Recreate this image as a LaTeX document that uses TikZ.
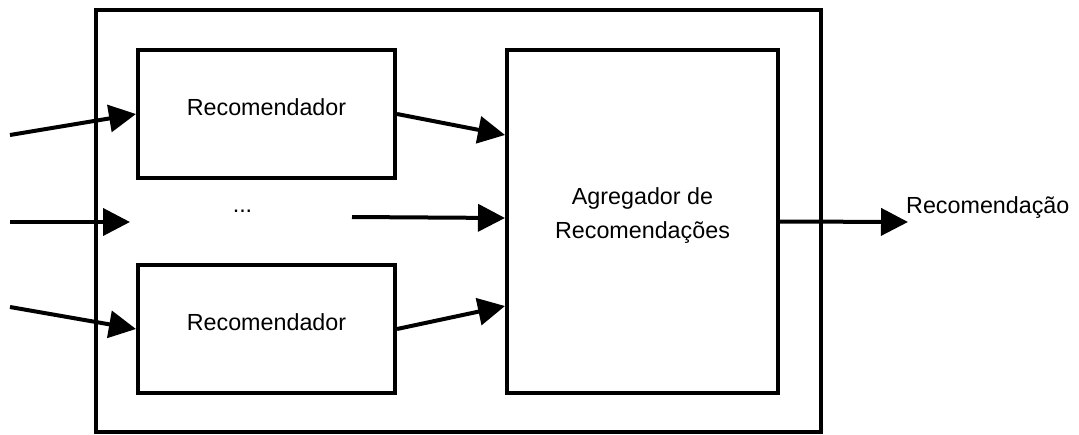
\documentclass[tikz,border=0pt]{standalone}
\usepackage{fontspec}
\setmainfont{Liberation Sans}
\usetikzlibrary{arrows.meta}

\tikzset{
  block/.style={draw, line width=4pt, inner sep=0pt, anchor=center},
  lbl/.style={inner sep=0pt, anchor=base, font=\fontsize{23.3}{28}\selectfont},
  flow/.style={line width=4pt, -{Triangle[length=27pt,width=27pt]}}
}

\begin{document}
\begin{tikzpicture}[x=1pt, y=-1pt]
  \useasboundingbox (0,0) rectangle (1079,434);

  % enclosing system frame
  \node[block, minimum width=725pt, minimum height=422pt] (frame) at (458.5,221) {};

  % individual recommenders and the aggregator
  \node[block, minimum width=257pt, minimum height=128pt] (rec1) at (266.5,114) {};
  \node[block, minimum width=257pt, minimum height=128pt] (rec2) at (266.5,329) {};
  \node[block, minimum width=271pt, minimum height=343pt] (agg) at (642.5,221.5) {};

  % texts
  \node[lbl] (t1) at (266.5,115) {Recomendador};
  \node[lbl] (t2) at (266.5,330) {Recomendador};
  \node[lbl] (dots) at (242.5,212) {...};
  \node[lbl] (ta) at (642.5,204) {Agregador de};
  \node[lbl] (tb) at (642.5,238) {Recomendações};
  \node[lbl, anchor=base west] (tout) at (906,213) {Recomendação};

  % free ends of the connectors
  \coordinate (in1) at (10,135);
  \coordinate (in2) at (10,222);
  \coordinate (in3) at (10,307);
  \coordinate (mid) at (130,222);
  \coordinate (midout) at (352,217);
  \coordinate (out) at (908,222);

  % inputs
  \draw[flow] (in1) -- (rec1.west);
  \draw[flow] (in2) -- (mid);
  \draw[flow] (in3) -- (rec2.west);

  % into the aggregator
  \draw[flow] (rec1.east) -- ([yshift=86.5pt]agg.west);
  \draw[flow] (midout) -- ([yshift=3.5pt]agg.west);
  \draw[flow] (rec2.east) -- ([yshift=-84.5pt]agg.west);

  % output
  \draw[flow] (agg.east) -- (out);
\end{tikzpicture}
\end{document}
